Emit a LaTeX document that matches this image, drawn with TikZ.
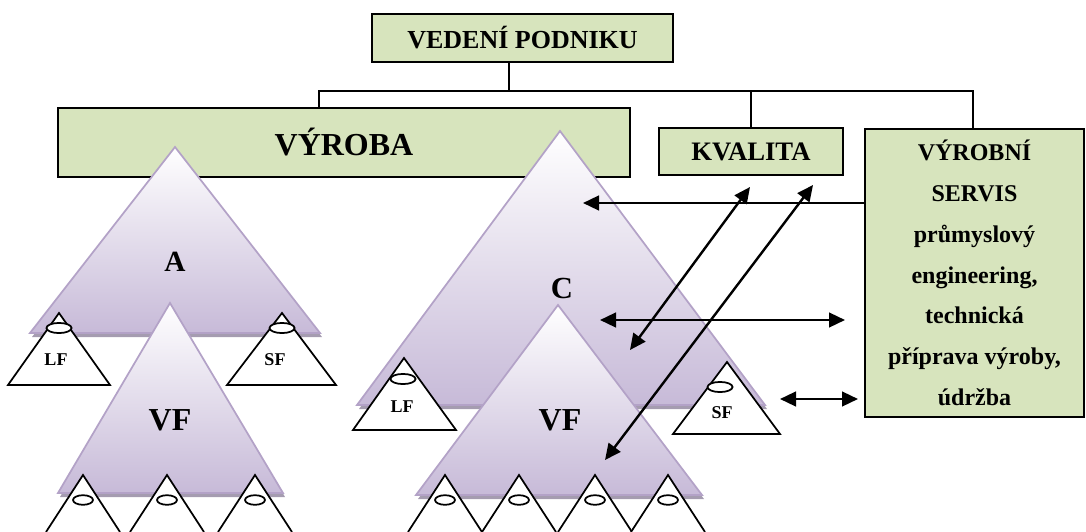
\documentclass[tikz,border=0pt]{standalone}
\usepackage{fontspec}
\setmainfont{Liberation Serif}
\usetikzlibrary{arrows.meta}

\definecolor{boxgreen}{HTML}{D7E4BD}
\definecolor{triedge}{HTML}{B3A2C7}
\definecolor{trifill}{HTML}{C7BAD8}
\definecolor{trishadow}{HTML}{A59CB0}

\begin{document}
\begin{tikzpicture}[
        x=0.75pt, y=-0.75pt,
        % 綠色方框
        org_box/.style={
            draw=black,
            fill=boxgreen,
            line width=1.3pt,
            inner sep=0pt,
            align=center
        },
        % 組織圖連線
        org_line/.style={
            draw=black,
            line width=1.2pt
        },
        % 大三角形:漸層 + 陰影
        big_tri/.style={
            draw=triedge,
            line width=1.3pt,
            line join=miter,
            top color=white,
            bottom color=trifill,
            preaction={fill=trishadow, transform canvas={xshift=1.5pt, yshift=-3pt}}
        },
        % 小三角形 (白底黑框)
        small_tri/.style={
            draw=black,
            fill=white,
            line width=1.3pt,
            line join=miter
        },
        cone_top/.style={
            draw=black,
            fill=white,
            line width=1.3pt
        },
        % 文字樣式
        big_label/.style={inner sep=0pt, font=\fontsize{22}{25}\selectfont\bfseries},
        vf_label/.style={inner sep=0pt, font=\fontsize{24}{27}\selectfont\bfseries},
        small_label/.style={inner sep=0pt, font=\fontsize{13.5}{15}\selectfont\bfseries},
        % 箭頭
        link_arrow/.style={
            draw=black,
            line width=1.8pt,
            -{Triangle[length=12pt, width=11pt]}
        },
        both_arrow/.style={
            draw=black,
            line width=1.8pt,
            {Triangle[length=12pt, width=11pt]}-{Triangle[length=12pt, width=11pt]}
        }
    ]
    \useasboundingbox (0,0) rectangle (1086,532);

    % ==========================
    % 組織圖方框
    % ==========================
    \node[org_box, minimum width=225.75pt, minimum height=36pt,
          font=\fontsize{19.5}{23}\selectfont\bfseries] (ved) at (522.5,38) {VEDENÍ PODNIKU};
    \node[org_box, minimum width=429pt, minimum height=51.75pt,
          font=\fontsize{24}{28}\selectfont\bfseries] (vyroba) at (344,142.5) {VÝROBA};
    \node[org_box, minimum width=138pt, minimum height=35.25pt,
          font=\fontsize{20}{24}\selectfont\bfseries] (kvalita) at (751,151.5) {KVALITA};
    \node[org_box, minimum width=164.25pt, minimum height=216pt,
          font=\fontsize{18}{30.6}\selectfont\bfseries] (vs) at (974.5,273)
          {VÝROBNÍ\\SERVIS\\průmyslový\\engineering,\\technická\\příprava výroby,\\údržba};

    % 連線
    \coordinate (trunk) at (509,91);
    \coordinate (bus_l) at (319,91);
    \coordinate (bus_r) at (973,91);
    \draw[org_line] (trunk |- ved.south) -- (trunk);
    \draw[org_line] (bus_l |- vyroba.north) -- (bus_l) -- (bus_r) -- (bus_r |- vs.north);
    \draw[org_line] (kvalita.north) -- (kvalita.north |- bus_l);

    % ==========================
    % 左側:A
    % ==========================
    \draw[big_tri] (30,333) -- (175,147) -- (320,333) -- cycle;
    \node[big_label] (lbl_a) at (175,262) {A};

    % LF / SF
    \draw[small_tri] (8,385) -- (59,313) -- (110,385) -- cycle;
    \draw[cone_top] (59,328) ellipse [x radius=9.4pt, y radius=3.8pt];
    \node[small_label] (lf_a) at (56,360) {LF};
    \draw[small_tri] (227,385) -- (282,313) -- (336,385) -- cycle;
    \draw[cone_top] (282,328) ellipse [x radius=9.4pt, y radius=3.8pt];
    \node[small_label] (sf_a) at (275,360) {SF};

    % VF
    \draw[big_tri] (58,493) -- (170,303) -- (283,493) -- cycle;
    \node[vf_label] (vf_a) at (170,420) {VF};
    \foreach \x in {83,167,255} {
        \filldraw[small_tri] (\x-37,532) -- (\x,475) -- (\x+37,532);
        \draw[cone_top] (\x,500) ellipse [x radius=7.5pt, y radius=3.6pt];
    }

    % ==========================
    % 右側:C
    % ==========================
    \draw[big_tri] (357,405) -- (560,131) -- (765,405) -- cycle;
    \node[big_label, font=\fontsize{23}{26}\selectfont\bfseries] (lbl_c) at (562,288) {C};

    \draw[small_tri] (353,430) -- (404,358) -- (456,430) -- cycle;
    \draw[cone_top] (403,379) ellipse [x radius=9.4pt, y radius=3.8pt];
    \node[small_label] (lf_c) at (402,407) {LF};
    \draw[small_tri] (673,434) -- (727,362) -- (780,434) -- cycle;
    \draw[cone_top] (720,387) ellipse [x radius=9.4pt, y radius=3.8pt];
    \node[small_label] (sf_c) at (722,413) {SF};

    \draw[big_tri] (416,495) -- (558,305) -- (702,495) -- cycle;
    \node[vf_label] (vf_c) at (560,420) {VF};
    \foreach \x in {445,519,595,668} {
        \filldraw[small_tri] (\x-37,532) -- (\x,475) -- (\x+37,532);
        \draw[cone_top] (\x,500) ellipse [x radius=7.5pt, y radius=3.6pt];
    }

    % ==========================
    % 箭頭
    % ==========================
    \coordinate (svc_hit) at (583,203);
    \coordinate (mid_l) at (600,320);
    \coordinate (mid_r) at (845,320);
    \coordinate (sf_l) at (780,399);
    \coordinate (sf_r) at (858,399);
    \coordinate (q1_top) at (750,187);
    \coordinate (q1_bot) at (630,350);
    \coordinate (q2_top) at (813,185);
    \coordinate (q2_bot) at (605,460);

    \draw[link_arrow] (vs.west |- svc_hit) -- (svc_hit);
    \draw[both_arrow] (mid_l) -- (mid_r);
    \draw[both_arrow] (sf_l) -- (sf_r);
    \draw[both_arrow] (q1_top) -- (q1_bot);
    \draw[both_arrow] (q2_top) -- (q2_bot);

\end{tikzpicture}
\end{document}
